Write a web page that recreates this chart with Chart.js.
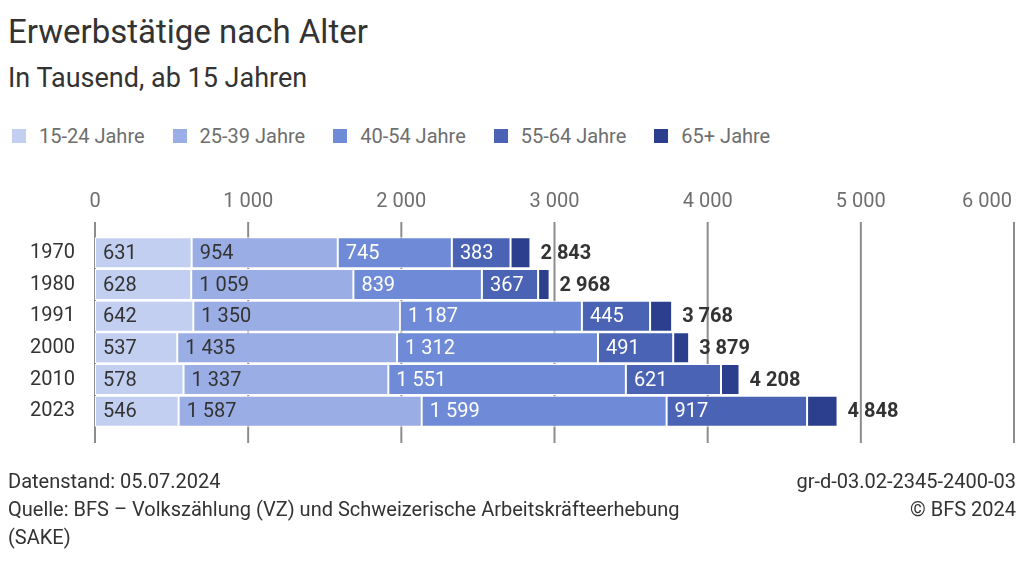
<!DOCTYPE html>
<html lang="de">
<head>
<meta charset="utf-8">
<script src="https://cdn.jsdelivr.net/npm/chart.js@4"></script>
<style>
    body { margin: 0; width: 1024px; height: 561px; position: relative; font-family: Roboto, sans-serif; background: #fff; overflow: hidden; }
    #title { position: absolute; left: 8px; top: 12px; font-size: 33px; line-height: 40px; color: #333; }
    #subtitle { position: absolute; left: 8px; top: 62px; font-size: 27px; line-height: 32px; color: #333; }
    #legend { position: absolute; left: 12px; top: 123px; display: flex; font-size: 20px; line-height: 26px; color: #6e6e6e; }
    #legend .item { display: flex; align-items: center; margin-right: 28px; }
    #legend .box { width: 14px; height: 14px; margin-right: 13px; }
    #chartWrap { position: absolute; left: 0; top: 0; width: 1024px; height: 561px; }
    .foot { position: absolute; font-size: 20px; color: #333; line-height: 28px; }
    #footLeft { left: 8px; top: 467px; }
    #footRight { right: 8px; top: 467px; text-align: right; }
</style>
</head>
<body>
<div id="title">Erwerbstätige nach Alter</div>
<div id="subtitle">In Tausend, ab 15 Jahren</div>
<div id="legend"></div>
<div id="chartWrap"><canvas id="chart" width="1024" height="561"></canvas></div>
<div class="foot" id="footLeft">Datenstand: 05.07.2024<br>Quelle: BFS – Volkszählung (VZ) und Schweizerische Arbeitskräfteerhebung<br>(SAKE)</div>
<div class="foot" id="footRight">gr-d-03.02-2345-2400-03<br>© BFS 2024</div>
<script>
var years = ['1970', '1980', '1991', '2000', '2010', '2023'];
var seriesNames = ['15-24 Jahre', '25-39 Jahre', '40-54 Jahre', '55-64 Jahre', '65+ Jahre'];
var age15to24 = [631, 628, 642, 537, 578, 546];
var age25to39 = [954, 1059, 1350, 1435, 1337, 1587];
var age40to54 = [745, 839, 1187, 1312, 1551, 1599];
var age55to64 = [383, 367, 445, 491, 621, 917];
var age65plus = [130, 75, 144, 104, 121, 199];
var totals = [2843, 2968, 3768, 3879, 4208, 4848];
var xTicks = [0, 1000, 2000, 3000, 4000, 5000, 6000];

var colors = ['#c3cff1', '#9aade4', '#6f8ad6', '#4b63b5', '#2b3f8e'];
var labelColors = ['#333', '#333', '#fff', '#fff', null];

function fmt(n) {
    return String(n).replace(/\B(?=(\d{3})+(?!\d))/g, ' ');
}

// html legend
var legend = document.getElementById('legend');
seriesNames.forEach(function(name, i) {
    var item = document.createElement('div');
    item.className = 'item';
    item.innerHTML = '<span class="box" style="background:' + colors[i] + '"></span>' + name;
    legend.appendChild(item);
});

var gridAndLabels = {
    id: 'gridAndLabels',
    beforeDatasetsDraw: function(chart) {
        var ctx = chart.ctx;
        var x = chart.scales.x;
        var area = chart.chartArea;
        ctx.save();
        ctx.strokeStyle = '#8c8c8c';
        ctx.lineWidth = 2;
        ctx.font = '20px Roboto';
        ctx.fillStyle = '#6e6e6e';
        ctx.textBaseline = 'middle';
        xTicks.forEach(function(v) {
            var px = x.getPixelForValue(v);
            ctx.beginPath();
            ctx.moveTo(px, area.top - 15);
            ctx.lineTo(px, area.bottom + 16);
            ctx.stroke();
            var txt = fmt(v);
            var w = ctx.measureText(txt).width;
            var lx = Math.min(px - w / 2, chart.width - 12 - w);
            ctx.textAlign = 'left';
            ctx.fillText(txt, lx, 202);
        });
        ctx.restore();
    },
    afterDatasetsDraw: function(chart) {
        var ctx = chart.ctx;
        ctx.save();
        ctx.textBaseline = 'middle';
        ctx.textAlign = 'left';
        chart.data.datasets.forEach(function(ds, di) {
            var meta = chart.getDatasetMeta(di);
            meta.data.forEach(function(bar, i) {
                if (labelColors[di]) {
                    ctx.font = '20px Roboto';
                    ctx.fillStyle = labelColors[di];
                    ctx.fillText(fmt(ds.data[i]), bar.base + 8, bar.y + 1);
                }
                if (di === chart.data.datasets.length - 1) {
                    ctx.font = 'bold 20px Roboto';
                    ctx.fillStyle = '#333';
                    ctx.fillText(fmt(totals[i]), bar.x + 10, bar.y + 1);
                }
            });
        });
        ctx.restore();
    }
};

var seriesData = [age15to24, age25to39, age40to54, age55to64, age65plus];

new Chart(document.getElementById('chart'), {
    type: 'bar',
    data: {
        labels: years,
        datasets: seriesData.map(function(d, i) {
            return {
                label: seriesNames[i],
                data: d,
                backgroundColor: colors[i],
                borderColor: '#fff',
                borderWidth: 1,
                borderSkipped: false,
                barPercentage: 0.98,
                categoryPercentage: 1
            };
        })
    },
    options: {
        indexAxis: 'y',
        responsive: false,
        animation: false,
        layout: { padding: { left: 0, top: 237, right: 10, bottom: 134 } },
        plugins: {
            legend: { display: false },
            tooltip: { enabled: false }
        },
        scales: {
            x: {
                stacked: true,
                display: false,
                min: 0,
                max: 6000
            },
            y: {
                stacked: true,
                grid: { display: false },
                border: { display: false },
                ticks: {
                    padding: 12,
                    color: '#333',
                    font: { family: 'Roboto', size: 20 }
                },
                afterFit: function(scale) { scale.width = 95; }
            }
        }
    },
    plugins: [gridAndLabels]
});
</script>
</body>
</html>
